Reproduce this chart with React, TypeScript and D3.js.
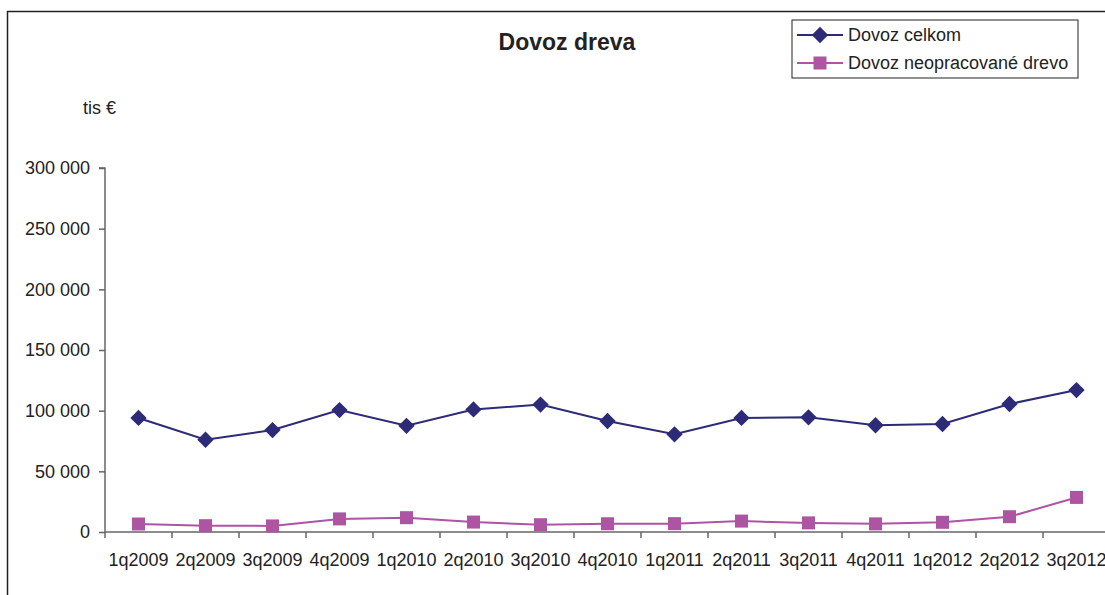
import { useEffect, useRef } from 'react';
import * as d3 from 'd3';

const categories = ['1q2009', '2q2009', '3q2009', '4q2009', '1q2010', '2q2010', '3q2010', '4q2010', '1q2011', '2q2011', '3q2011', '4q2011', '1q2012', '2q2012', '3q2012'];
const celkom = [94000, 76000, 84000, 100500, 87500, 101000, 105000, 91500, 80500, 94000, 94500, 88000, 89000, 105500, 117000];
const neopracovane = [6600, 5200, 5000, 10800, 11800, 8200, 6000, 6800, 6900, 9000, 7500, 6700, 8000, 12600, 28500];
const yTicks = [0, 50000, 100000, 150000, 200000, 250000, 300000];

const navy = '#2D2A77';
const pink = '#AD55A3';
const font = 'Liberation Sans, Arial, sans-serif';

export default function App() {
  const svgRef = useRef<SVGSVGElement>(null);

  useEffect(() => {
    const svg = d3.select(svgRef.current);
    svg.selectAll('*').remove();
    const width = 1105;
    const height = 595;
    const margin = { top: 168, left: 105, bottom: 532 };

    svg.append('rect').attr('x', 7.5).attr('y', 11.5).attr('width', 1110).attr('height', 600)
      .attr('fill', 'white').attr('stroke', '#222').attr('stroke-width', 1.5);

    const x = d3.scaleBand().domain(categories).range([margin.left, margin.left + 67 * categories.length]);
    const y = d3.scaleLinear().domain([0, 300000]).range([margin.bottom, margin.top]);
    const fmt = (v: number) => d3.format(',')(v).replace(/,/g, ' ');

    // y axis
    const ya = svg.append('g').attr('transform', `translate(${margin.left},0)`)
      .call(d3.axisLeft(y).tickValues(yTicks).tickSize(6).tickPadding(9).tickFormat((d) => fmt(+d)));
    ya.selectAll('text').attr('font-family', font).attr('font-size', 18).attr('fill', '#222');
    ya.selectAll('line, path').attr('stroke', '#666').attr('stroke-width', 1.5);
    ya.select('.domain').attr('d', `M-6,${margin.top}H0V${margin.bottom}`);

    // x axis
    const xa = svg.append('g').attr('transform', `translate(0,${margin.bottom})`)
      .call(d3.axisBottom(x).tickSize(0).tickPadding(21));
    xa.selectAll('text').attr('font-family', font).attr('font-size', 18).attr('fill', '#222');
    xa.select('.domain').attr('stroke', '#666').attr('stroke-width', 1.5)
      .attr('d', `M${margin.left},0H${margin.left + 67 * categories.length}`);
    categories.forEach((c) => {
      xa.append('line').attr('x1', x(c)!).attr('x2', x(c)!).attr('y1', 0).attr('y2', 6)
        .attr('stroke', '#666').attr('stroke-width', 1.5);
    });

    const cx = (i: number) => x(categories[i])! + x.bandwidth() / 2;
    const line = d3.line<number>().x((_, i) => cx(i)).y((d) => y(d));

    svg.append('path').datum(neopracovane).attr('d', line).attr('fill', 'none').attr('stroke', pink).attr('stroke-width', 2);
    svg.append('path').datum(celkom).attr('d', line).attr('fill', 'none').attr('stroke', navy).attr('stroke-width', 2);

    const diamond = d3.symbol().type(d3.symbolDiamond2).size(170);
    svg.selectAll('.dia').data(celkom).enter().append('path')
      .attr('d', diamond).attr('fill', navy)
      .attr('transform', (d, i) => `translate(${cx(i)},${y(d)})`);
    svg.selectAll('.sq').data(neopracovane).enter().append('rect')
      .attr('x', (d, i) => cx(i) - 6.5).attr('y', (d) => y(d) - 6.5)
      .attr('width', 13).attr('height', 13).attr('fill', pink);

    // title and unit
    svg.append('text').attr('x', 567).attr('y', 50).attr('text-anchor', 'middle')
      .attr('font-family', font).attr('font-weight', 'bold').attr('font-size', 23).attr('fill', '#222').text('Dovoz dreva');
    svg.append('text').attr('x', 83).attr('y', 114)
      .attr('font-family', font).attr('font-size', 18).attr('fill', '#222').text('tis €');

    // legend
    const lg = svg.append('g');
    lg.append('rect').attr('x', 792).attr('y', 20).attr('width', 286).attr('height', 58)
      .attr('fill', 'white').attr('stroke', '#222').attr('stroke-width', 1);
    const items = [
      { name: 'Dovoz celkom', color: navy, shape: 'diamond', y: 35 },
      { name: 'Dovoz neopracované drevo', color: pink, shape: 'square', y: 63 },
    ];
    items.forEach((it) => {
      lg.append('line').attr('x1', 797).attr('x2', 843).attr('y1', it.y).attr('y2', it.y)
        .attr('stroke', it.color).attr('stroke-width', 2);
      if (it.shape === 'diamond') {
        lg.append('path').attr('d', diamond).attr('fill', it.color).attr('transform', `translate(820,${it.y})`);
      } else {
        lg.append('rect').attr('x', 813.5).attr('y', it.y - 6.5).attr('width', 13).attr('height', 13).attr('fill', it.color);
      }
      lg.append('text').attr('x', 848).attr('y', it.y + 6)
        .attr('font-family', font).attr('font-size', 18).attr('fill', '#222').text(it.name);
    });

    svg.attr('width', width).attr('height', height);
  }, []);

  return (
    <svg ref={svgRef} width={1105} height={595}
      style={{ position: 'absolute', left: 0, top: 0, background: 'white' }} />
  );
}
